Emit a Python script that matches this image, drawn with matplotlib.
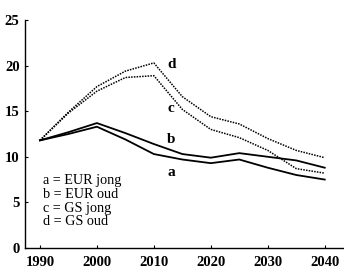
import matplotlib
matplotlib.use("Agg")
from matplotlib import pyplot as plt

years = [1990, 1995, 2000, 2005, 2010, 2015, 2020, 2025, 2030, 2035, 2040]
eur_jong = [11.8, 12.5, 13.3, 11.9, 10.3, 9.7, 9.3, 9.7, 8.8, 8.0, 7.5]
eur_oud = [11.8, 12.7, 13.7, 12.6, 11.4, 10.3, 9.9, 10.4, 10.0, 9.6, 8.8]
gs_jong = [11.8, 14.8, 17.2, 18.7, 18.9, 15.2, 13.0, 12.1, 10.7, 8.7, 8.2]
gs_oud = [11.8, 14.9, 17.7, 19.4, 20.3, 16.6, 14.4, 13.6, 12.0, 10.7, 9.9]

legend_lines = ["a = EUR jong", "b = EUR oud", "c = GS jong", "d = GS oud"]
xticks = [1990, 2000, 2010, 2020, 2030, 2040]
yticks = [0, 5, 10, 15, 20, 25]

fig = plt.figure(figsize=(3.44, 2.68), dpi=100)
ax = fig.add_axes([0.073, 0.075, 0.924, 0.85])

ax.plot(years, eur_jong, color="black", lw=1.3)
ax.plot(years, eur_oud, color="black", lw=1.3)
ax.plot(years, gs_jong, color="black", lw=1.1, ls=(0, (1, 0.8)))
ax.plot(years, gs_oud, color="black", lw=1.1, ls=(0, (1, 0.8)))

# curve letters
lab = dict(fontfamily="Liberation Serif", fontweight="bold", fontsize=11,
           ha="center", va="center")
ax.text(2013.1, 20.1, "d", **lab)
ax.text(2013.0, 15.3, "c", **lab)
ax.text(2013.1, 11.95, "b", **lab)
ax.text(2013.0, 8.3, "a", **lab)

for i, s in enumerate(legend_lines):
    ax.text(1990.5, 7.35 - i * 1.5, s, fontfamily="Liberation Serif",
            fontsize=10.2, ha="left", va="center")

ax.set_xlim(1987.4, 2043.2)
ax.set_ylim(0, 25)
ax.set_xticks(xticks)
ax.set_yticks(yticks)
for s in ["top", "right"]:
    ax.spines[s].set_visible(False)
ax.spines["left"].set_linewidth(1.0)
ax.spines["bottom"].set_linewidth(1.0)
ax.tick_params(direction="in", length=2, width=0.8)
ax.tick_params(axis="x", pad=6)
ax.tick_params(axis="y", pad=4)
for t in ax.get_xticklabels() + ax.get_yticklabels():
    t.set_fontfamily("Liberation Serif")
    t.set_fontweight("bold")
    t.set_fontsize(10.5)

fig.savefig("out.png", dpi=100)
